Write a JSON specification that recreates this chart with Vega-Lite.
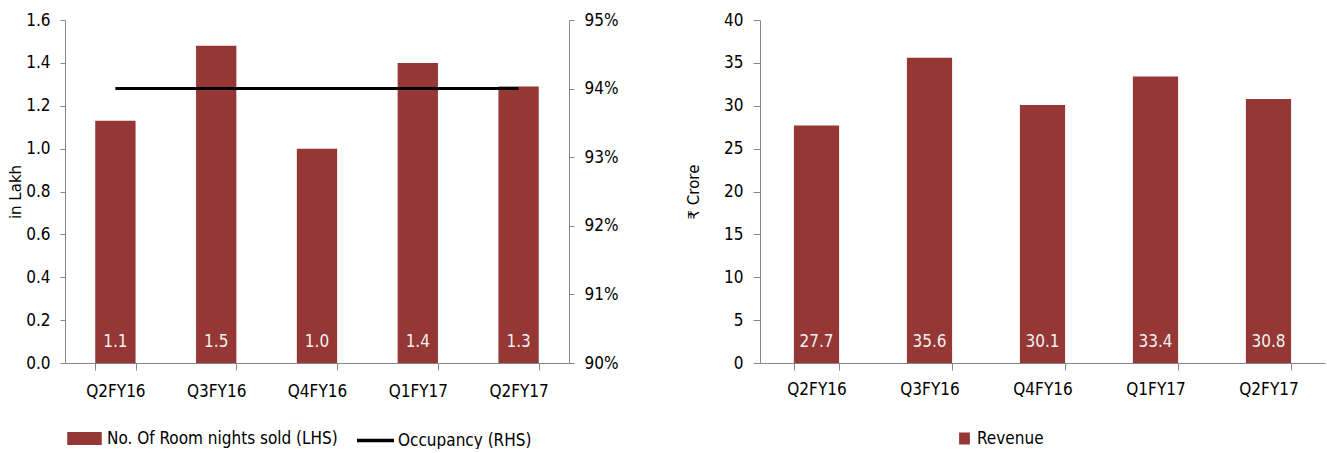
{
  "$schema": "https://vega.github.io/schema/vega-lite/v6.json",
  "padding": {"left": 8, "top": 11, "right": 3, "bottom": 0},
  "spacing": 68,
  "config": {
    "view": {"stroke": null},
    "font": "Liberation Sans Narrow, DejaVu Sans Condensed, sans-serif",
    "axis": {
      "labelFont": "Liberation Sans Narrow, DejaVu Sans Condensed, sans-serif",
      "labelFontSize": 17,
      "labelColor": "#000000",
      "domainColor": "#868686",
      "tickColor": "#868686",
      "grid": false,
      "titleFont": "DejaVu Sans, Noto Sans, sans-serif",
      "titleFontSize": 15,
      "titleFontWeight": "normal",
      "titleColor": "#000000"
    },
    "legend": {
      "orient": "none",
      "direction": "horizontal",
      "title": null,
      "padding": 0,
      "labelFont": "Liberation Sans Narrow, DejaVu Sans Condensed, sans-serif",
      "labelFontSize": 17,
      "labelColor": "#000000",
      "labelLimit": 400,
      "labelOffset": 4
    }
  },
  "resolve": {"scale": {"color": "independent", "stroke": "independent"}, "legend": {"color": "independent", "stroke": "independent"}},
  "hconcat": [
    {
      "width": 504,
      "height": 343,
      "data": {"values": [
        {"quarter": "Q2FY16", "rooms": 1.13, "occupancy": 0.94, "bar": "No. Of Room nights sold (LHS)", "line": "Occupancy (RHS)"},
        {"quarter": "Q3FY16", "rooms": 1.48, "occupancy": 0.94, "bar": "No. Of Room nights sold (LHS)", "line": "Occupancy (RHS)"},
        {"quarter": "Q4FY16", "rooms": 1.0, "occupancy": 0.94, "bar": "No. Of Room nights sold (LHS)", "line": "Occupancy (RHS)"},
        {"quarter": "Q1FY17", "rooms": 1.4, "occupancy": 0.94, "bar": "No. Of Room nights sold (LHS)", "line": "Occupancy (RHS)"},
        {"quarter": "Q2FY17", "rooms": 1.29, "occupancy": 0.94, "bar": "No. Of Room nights sold (LHS)", "line": "Occupancy (RHS)"}
      ]},
      "encoding": {
        "x": {
          "field": "quarter", "type": "nominal", "sort": null,
          "scale": {"paddingInner": 0.6, "paddingOuter": 0.3},
          "axis": {"title": null, "labelAngle": 0, "tickBand": "extent", "tickSize": 7, "labelPadding": 13}
        }
      },
      "layer": [
        {
          "layer": [
            {
              "mark": {"type": "bar", "color": "#953735"},
              "encoding": {
                "y": {
                  "field": "rooms", "type": "quantitative",
                  "scale": {"domain": [0, 1.6], "nice": false},
                  "axis": {"title": "in Lakh", "values": [0, 0.2, 0.4, 0.6, 0.8, 1.0, 1.2, 1.4, 1.6], "format": ".1f", "tickSize": 5, "labelPadding": 10, "titlePadding": 2}
                },
                "color": {
                  "field": "bar", "type": "nominal",
                  "scale": {"range": ["#953735"]},
                  "legend": {"symbolType": "M-1,-0.37H1V0.37H-1Z", "symbolSize": 1190, "symbolStrokeWidth": 0, "symbolOpacity": 1, "legendX": 2, "legendY": 401, "labelOffset": 5}
                }
              }
            },
            {
              "mark": {"type": "text", "baseline": "middle", "dy": -21, "color": "#f2f2f2", "fontSize": 17},
              "encoding": {
                "y": {"datum": 0, "type": "quantitative"},
                "text": {"field": "rooms", "type": "quantitative", "format": ".1f"}
              }
            }
          ]
        },
        {
          "mark": {"type": "line", "strokeWidth": 3},
          "encoding": {
            "y": {
              "field": "occupancy", "type": "quantitative",
              "scale": {"domain": [0.9, 0.95], "nice": false, "zero": false},
              "axis": {"orient": "right", "title": null, "format": ".0%", "values": [0.90, 0.91, 0.92, 0.93, 0.94, 0.95], "tickSize": 5, "labelPadding": 10}
            },
            "stroke": {
              "field": "line", "type": "nominal",
              "scale": {"range": ["#000000"]},
              "legend": {"symbolType": "stroke", "symbolSize": 1369, "symbolStrokeWidth": 3.5, "legendX": 290, "legendY": 400, "labelOffset": 2}
            }
          }
        }
      ],
      "resolve": {"scale": {"y": "independent"}}
    },
    {
      "width": 565,
      "height": 343,
      "data": {"values": [
        {"quarter": "Q2FY16", "revenue": 27.7, "series": "Revenue"},
        {"quarter": "Q3FY16", "revenue": 35.6, "series": "Revenue"},
        {"quarter": "Q4FY16", "revenue": 30.1, "series": "Revenue"},
        {"quarter": "Q1FY17", "revenue": 33.4, "series": "Revenue"},
        {"quarter": "Q2FY17", "revenue": 30.8, "series": "Revenue"}
      ]},
      "encoding": {
        "x": {
          "field": "quarter", "type": "nominal", "sort": null,
          "scale": {"paddingInner": 0.6, "paddingOuter": 0.3},
          "axis": {"title": null, "labelAngle": 0, "tickBand": "extent", "tickSize": 7, "labelPadding": 11}
        },
        "y": {
          "field": "revenue", "type": "quantitative",
          "scale": {"domain": [0, 40], "nice": false},
          "axis": {"title": "₹ Crore", "values": [0, 5, 10, 15, 20, 25, 30, 35, 40], "tickSize": 7, "labelPadding": 10, "titlePadding": 22}
        }
      },
      "layer": [
        {
          "mark": {"type": "bar", "color": "#953735"},
          "encoding": {
            "color": {
              "field": "series", "type": "nominal",
              "scale": {"range": ["#953735"]},
              "legend": {"symbolType": "M-0.9,-1H0.9V1H-0.9Z", "symbolSize": 144, "symbolStrokeWidth": 0, "symbolOpacity": 1, "legendX": 196, "legendY": 410, "labelOffset": 4}
            }
          }
        },
        {
          "mark": {"type": "text", "baseline": "middle", "dy": -21, "color": "#f2f2f2", "fontSize": 17},
          "encoding": {
            "y": {"datum": 0, "type": "quantitative"},
            "text": {"field": "revenue", "type": "quantitative", "format": ".1f"}
          }
        }
      ]
    }
  ]
}
